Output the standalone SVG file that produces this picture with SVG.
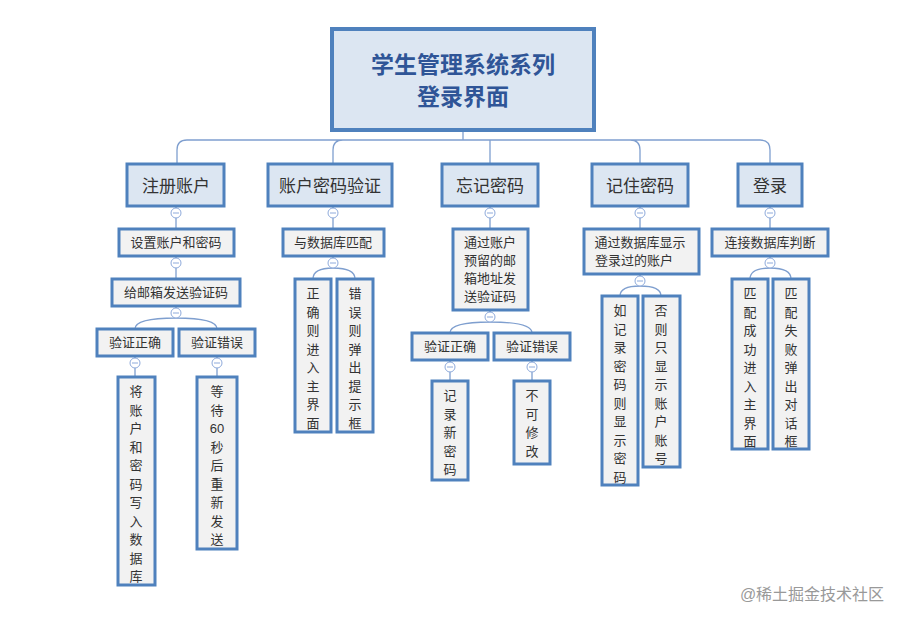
<svg xmlns="http://www.w3.org/2000/svg" width="913" height="623" viewBox="0 0 913 623">
<style>
text{font-family:"Liberation Sans","Noto Sans CJK SC",sans-serif;fill:#333;text-anchor:middle}
.l1 rect{fill:#dce6f2;stroke:#4f81bd;stroke-width:3}
.l2 rect{fill:#f2f2f2;stroke:#4f81bd;stroke-width:3}
.l1 text{font-size:17px}
.l2 text{font-size:13px}
#conn path{fill:none;stroke:#7f9fcf;stroke-width:1.3}
.m circle{fill:#fff;stroke:#8eaadb;stroke-width:1}
.m path{stroke:#8eaadb;stroke-width:1}
</style>
<rect width="913" height="623" fill="#fff"/>
<g id="conn">
<path d="M463,130V140M177,164V150Q177,140 187,140H760Q770,140 770,150V164M333,164V150Q333,140 343,140M490,164V140M640,164V150Q640,140 630,140"/>
<path d="M176,206V229M176,256V279M176,306V318M135,329Q135,318 176,318Q217,318 217,329M135,356V377M217,356V377"/>
<path d="M333,206V229M333,256V268M313,279Q313,268 333,268Q355,268 355,279"/>
<path d="M490,206V229M490,310V322M450,333Q450,322 490,322Q532,322 532,333M450,360V381M532,360V381"/>
<path d="M640,206V229M640,274V286M620,296Q620,286 640,286Q661,286 661,296"/>
<path d="M770,206V229M770,256V268M750,279Q750,268 770,268Q791,268 791,279"/>
</g>
<g class="m">
<circle cx="176" cy="213" r="5"/><path d="M173,213H179"/>
<circle cx="176" cy="263" r="5"/><path d="M173,263H179"/>
<circle cx="176" cy="313" r="5"/><path d="M173,313H179"/>
<circle cx="135" cy="363" r="5"/><path d="M132,363H138"/>
<circle cx="217" cy="363" r="5"/><path d="M214,363H220"/>
<circle cx="333" cy="213" r="5"/><path d="M330,213H336"/>
<circle cx="333" cy="263" r="5"/><path d="M330,263H336"/>
<circle cx="490" cy="213" r="5"/><path d="M487,213H493"/>
<circle cx="490" cy="317" r="5"/><path d="M487,317H493"/>
<circle cx="450" cy="367" r="5"/><path d="M447,367H453"/>
<circle cx="532" cy="367" r="5"/><path d="M529,367H535"/>
<circle cx="640" cy="213" r="5"/><path d="M637,213H643"/>
<circle cx="640" cy="281" r="5"/><path d="M637,281H643"/>
<circle cx="770" cy="213" r="5"/><path d="M767,213H773"/>
<circle cx="770" cy="263" r="5"/><path d="M767,263H773"/>
</g>
<g id="title">
<rect x="332" y="29" width="262" height="101" fill="#dce6f2" stroke="#4f81bd" stroke-width="4"/>
<text x="463" y="73" style="font-size:23px;font-weight:bold;fill:#2f5597">学生管理系统系列</text>
<text x="463" y="105" style="font-size:23px;font-weight:bold;fill:#2f5597">登录界面</text>
</g>
<g id="n1" class="l1"><rect x="127" y="164" width="97" height="42"/><text x="176" y="192">注册账户</text></g>
<g id="n2" class="l1"><rect x="268" y="164" width="124" height="42"/><text x="330" y="192">账户密码验证</text></g>
<g id="n3" class="l1"><rect x="442" y="164" width="96" height="42"/><text x="490" y="192">忘记密码</text></g>
<g id="n4" class="l1"><rect x="592" y="164" width="96" height="42"/><text x="640" y="192">记住密码</text></g>
<g id="n5" class="l1"><rect x="738" y="164" width="64" height="42"/><text x="770" y="192">登录</text></g>
<g id="n1a" class="l2"><rect x="119" y="229" width="115" height="27"/><text x="176" y="247">设置账户和密码</text></g>
<g id="n1b" class="l2"><rect x="112" y="279" width="128" height="27"/><text x="176" y="297">给邮箱发送验证码</text></g>
<g id="n1c" class="l2"><rect x="97" y="329" width="76" height="27"/><text x="135" y="347">验证正确</text></g>
<g id="n1d" class="l2"><rect x="179" y="329" width="76" height="27"/><text x="217" y="347">验证错误</text></g>
<g id="n1e" class="l2"><rect x="118" y="377" width="37" height="208"/><text x="136" y="396"><tspan x="136">将</tspan><tspan x="136" dy="18.5">账</tspan><tspan x="136" dy="18.5">户</tspan><tspan x="136" dy="18.5">和</tspan><tspan x="136" dy="18.5">密</tspan><tspan x="136" dy="18.5">码</tspan><tspan x="136" dy="18.5">写</tspan><tspan x="136" dy="18.5">入</tspan><tspan x="136" dy="18.5">数</tspan><tspan x="136" dy="18.5">据</tspan><tspan x="136" dy="18.5">库</tspan></text></g>
<g id="n1f" class="l2"><rect x="197" y="377" width="40" height="172"/><text x="217" y="396"><tspan x="217">等</tspan><tspan x="217" dy="18.5">待</tspan><tspan x="217" dy="18.5">60</tspan><tspan x="217" dy="18.5">秒</tspan><tspan x="217" dy="18.5">后</tspan><tspan x="217" dy="18.5">重</tspan><tspan x="217" dy="18.5">新</tspan><tspan x="217" dy="18.5">发</tspan><tspan x="217" dy="18.5">送</tspan></text></g>
<g id="n2a" class="l2"><rect x="283" y="229" width="101" height="27"/><text x="333" y="247">与数据库匹配</text></g>
<g id="n2b" class="l2"><rect x="295" y="279" width="36" height="153"/><text x="313" y="298"><tspan x="313">正</tspan><tspan x="313" dy="18.5">确</tspan><tspan x="313" dy="18.5">则</tspan><tspan x="313" dy="18.5">进</tspan><tspan x="313" dy="18.5">入</tspan><tspan x="313" dy="18.5">主</tspan><tspan x="313" dy="18.5">界</tspan><tspan x="313" dy="18.5">面</tspan></text></g>
<g id="n2c" class="l2"><rect x="337" y="279" width="36" height="153"/><text x="355" y="298"><tspan x="355">错</tspan><tspan x="355" dy="18.5">误</tspan><tspan x="355" dy="18.5">则</tspan><tspan x="355" dy="18.5">弹</tspan><tspan x="355" dy="18.5">出</tspan><tspan x="355" dy="18.5">提</tspan><tspan x="355" dy="18.5">示</tspan><tspan x="355" dy="18.5">框</tspan></text></g>
<g id="n3a" class="l2"><rect x="453" y="229" width="75" height="81"/><text x="490" y="247"><tspan x="490">通过账户</tspan><tspan x="490" dy="18">预留的邮</tspan><tspan x="490" dy="18">箱地址发</tspan><tspan x="490" dy="18">送验证码</tspan></text></g>
<g id="n3b" class="l2"><rect x="412" y="333" width="76" height="27"/><text x="450" y="351">验证正确</text></g>
<g id="n3c" class="l2"><rect x="494" y="333" width="76" height="27"/><text x="532" y="351">验证错误</text></g>
<g id="n3d" class="l2"><rect x="432" y="381" width="36" height="99"/><text x="450" y="400"><tspan x="450">记</tspan><tspan x="450" dy="18.5">录</tspan><tspan x="450" dy="18.5">新</tspan><tspan x="450" dy="18.5">密</tspan><tspan x="450" dy="18.5">码</tspan></text></g>
<g id="n3e" class="l2"><rect x="514" y="381" width="36" height="83"/><text x="532" y="400"><tspan x="532">不</tspan><tspan x="532" dy="18.5">可</tspan><tspan x="532" dy="18.5">修</tspan><tspan x="532" dy="18.5">改</tspan></text></g>
<g id="n4a" class="l2"><rect x="584" y="229" width="115" height="45"/><text x="640" y="247"><tspan x="640">通过数据库显示</tspan><tspan x="634" dy="18">登录过的账户</tspan></text></g>
<g id="n4b" class="l2"><rect x="602" y="296" width="36" height="189"/><text x="620" y="315"><tspan x="620">如</tspan><tspan x="620" dy="18.5">记</tspan><tspan x="620" dy="18.5">录</tspan><tspan x="620" dy="18.5">密</tspan><tspan x="620" dy="18.5">码</tspan><tspan x="620" dy="18.5">则</tspan><tspan x="620" dy="18.5">显</tspan><tspan x="620" dy="18.5">示</tspan><tspan x="620" dy="18.5">密</tspan><tspan x="620" dy="18.5">码</tspan></text></g>
<g id="n4c" class="l2"><rect x="643" y="296" width="37" height="171"/><text x="661" y="315"><tspan x="661">否</tspan><tspan x="661" dy="18.5">则</tspan><tspan x="661" dy="18.5">只</tspan><tspan x="661" dy="18.5">显</tspan><tspan x="661" dy="18.5">示</tspan><tspan x="661" dy="18.5">账</tspan><tspan x="661" dy="18.5">户</tspan><tspan x="661" dy="18.5">账</tspan><tspan x="661" dy="18.5">号</tspan></text></g>
<g id="n5a" class="l2"><rect x="712" y="229" width="116" height="27"/><text x="770" y="247">连接数据库判断</text></g>
<g id="n5b" class="l2"><rect x="732" y="279" width="36" height="170"/><text x="750" y="298"><tspan x="750">匹</tspan><tspan x="750" dy="18.5">配</tspan><tspan x="750" dy="18.5">成</tspan><tspan x="750" dy="18.5">功</tspan><tspan x="750" dy="18.5">进</tspan><tspan x="750" dy="18.5">入</tspan><tspan x="750" dy="18.5">主</tspan><tspan x="750" dy="18.5">界</tspan><tspan x="750" dy="18.5">面</tspan></text></g>
<g id="n5c" class="l2"><rect x="773" y="279" width="36" height="170"/><text x="791" y="298"><tspan x="791">匹</tspan><tspan x="791" dy="18.5">配</tspan><tspan x="791" dy="18.5">失</tspan><tspan x="791" dy="18.5">败</tspan><tspan x="791" dy="18.5">弹</tspan><tspan x="791" dy="18.5">出</tspan><tspan x="791" dy="18.5">对</tspan><tspan x="791" dy="18.5">话</tspan><tspan x="791" dy="18.5">框</tspan></text></g>
<text x="812" y="600" style="font-size:16px;fill:#999">@稀土掘金技术社区</text>
</svg>
